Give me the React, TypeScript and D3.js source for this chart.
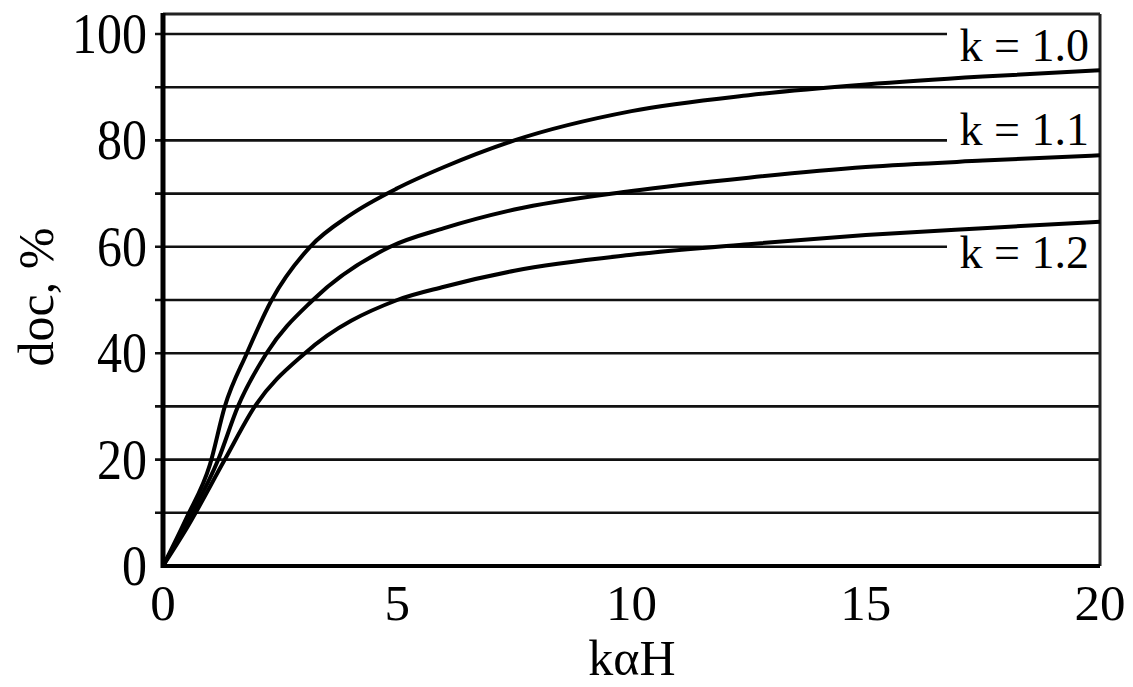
import React from 'react';
import * as d3 from 'd3';

// curves: [kαH, doc %]
const curveK10: [number, number][] = [
  [0, 0], [0.5, 9], [1, 19], [1.32, 30], [1.79, 40], [2.32, 50], [3.14, 60], [4, 66],
  [5, 71], [6, 75], [7.5, 80], [10, 85.5], [12.5, 88.5], [15, 90.5], [17.5, 92], [20, 93.2]
];
const curveK11: [number, number][] = [
  [0, 0], [0.5, 8], [1.18, 20], [1.6, 30], [2.21, 40], [3.2, 50], [4.85, 60], [6, 63.5],
  [7.5, 67], [10, 70.5], [12.5, 73], [15, 75], [17.5, 76.2], [20, 77.2]
];
const curveK12: [number, number][] = [
  [0, 0], [0.5, 7], [1.32, 20], [1.96, 30], [3.03, 40], [5, 50], [6, 52.5], [7.5, 55.5],
  [10, 58.5], [12.5, 60.5], [15, 62.2], [17.5, 63.5], [20, 64.7]
];
const seriesLabels = ['k = 1.0', 'k = 1.1', 'k = 1.2'];
const labelAt = [100, 80, 60]; // gridline each label sits on
const xTicks = [0, 5, 10, 15, 20];
const yTicks = [0, 20, 40, 60, 80, 100];
const gridValues = [10, 20, 30, 40, 50, 60, 70, 80, 90, 100];

const W = 1133;
const H = 687;
const left = 163;
const right = 1100;
const serif = '"Liberation Serif", "Times New Roman", serif';

export default function App() {
  const x = d3.scaleLinear().domain([0, 20]).range([left, right]);
  const y = d3.scaleLinear().domain([0, 100]).range([566, 34]);
  const top = 14;
  const line = d3
    .line<[number, number]>()
    .x(d => x(d[0]))
    .y(d => y(d[1]))
    .curve(d3.curveMonotoneX);
  const curves = [curveK10, curveK11, curveK12];
  const labelStart = 947;

  return (
    <svg
      width={W}
      height={H}
      style={{ position: 'absolute', left: 0, top: 0, background: '#fff' }}
      fontFamily={serif}
    >
      <rect x={0} y={0} width={W} height={H} fill="#fff" />
      {/* gridlines */}
      {gridValues.map(v => {
        const stop = labelAt.indexOf(v) >= 0 ? labelStart : right;
        return (
          <line key={v} x1={left - 8} x2={stop} y1={y(v)} y2={y(v)} stroke="#111" strokeWidth={2.6} />
        );
      })}
      {/* frame */}
      <line x1={left} x2={right} y1={top} y2={top} stroke="#222" strokeWidth={3} />
      <line x1={right} x2={right} y1={top} y2={y(0)} stroke="#222" strokeWidth={3} />
      <line x1={left} x2={right} y1={y(0)} y2={y(0)} stroke="#000" strokeWidth={4} />
      <line x1={left} x2={left} y1={top - 1} y2={y(0) + 2} stroke="#000" strokeWidth={5} />
      {/* curves */}
      {curves.map((c, i) => (
        <path key={i} d={line(c) || ''} fill="none" stroke="#000" strokeWidth={4} strokeLinejoin="round" />
      ))}
      {/* series labels */}
      {seriesLabels.map((s, i) => {
        const baseline = [61, 145, 268][i];
        return (
          <text key={s} x={1089} y={baseline} textAnchor="end" fontSize={46} fill="#000">
            {s}
          </text>
        );
      })}
      {/* y tick labels */}
      {yTicks.map(v => (
        <text
          key={v}
          transform={`translate(147,${y(v) + 19}) scale(1,1.15)`}
          textAnchor="end"
          fontSize={50}
          fill="#000"
        >
          {v}
        </text>
      ))}
      {/* x tick labels */}
      {xTicks.map(v => (
        <text key={v} x={x(v)} y={620} textAnchor="middle" fontSize={51} fill="#000">
          {v}
        </text>
      ))}
      <text x={632} y={675} textAnchor="middle" fontSize={50} fill="#000">
        kαH
      </text>
      <text
        transform="translate(53,297) rotate(-90)"
        textAnchor="middle"
        fontSize={50}
        fill="#000"
      >
        doc, %
      </text>
    </svg>
  );
}
